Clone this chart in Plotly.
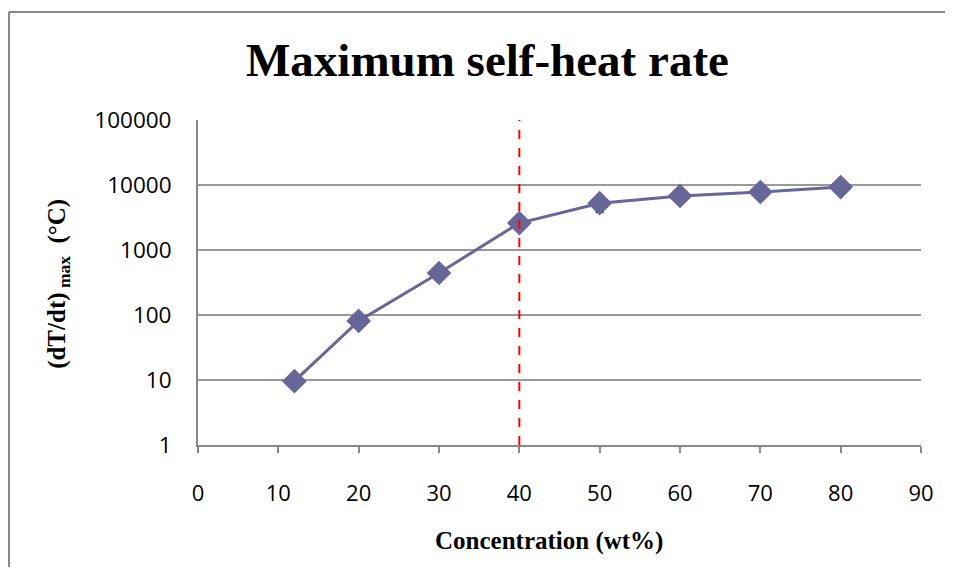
import plotly.graph_objects as go

concentration = [12, 20, 30, 40, 50, 60, 70, 80]
max_rate = [9.6, 81, 443, 2600, 5250, 6800, 7800, 9300]
err_minus = [0, 10, 45, 0, 1430, 1300, 1720, 1770]
x_ticks = [0, 10, 20, 30, 40, 50, 60, 70, 80, 90]
y_ticks = [1, 10, 100, 1000, 10000, 100000]
threshold_x = 40

fig = go.Figure()
fig.add_trace(go.Scatter(
    x=concentration, y=max_rate, mode="lines+markers",
    line=dict(color="#666699", width=3),
    marker=dict(symbol="diamond", size=19, color="#666699"),
    error_y=dict(type="data", symmetric=False, array=[0]*len(err_minus),
                 arrayminus=err_minus, color="black", thickness=1.5, width=4),
    showlegend=False,
))

fig.add_shape(type="line", xref="x", yref="paper", x0=threshold_x, x1=threshold_x,
              y0=0, y1=1, line=dict(color="red", width=2, dash="dash"))

# outer chart border (left and top)
fig.add_shape(type="line", xref="paper", yref="paper", x0=-0.2614, x1=-0.2614,
              y0=1.3323, y1=-0.42, line=dict(color="#888888", width=2))
fig.add_shape(type="line", xref="paper", yref="paper", x0=-0.2614, x1=1.06,
              y0=1.3323, y1=1.3323, line=dict(color="#888888", width=2))

fig.add_annotation(text="<b>Maximum self-heat rate</b>", xref="paper", yref="paper",
                   x=0.401, y=1.185, xanchor="center", yanchor="middle", showarrow=False,
                   font=dict(family="Liberation Serif", size=47, color="black"))
fig.add_annotation(text="<b>Concentration (wt%)</b>", xref="paper", yref="paper",
                   x=0.485, y=-0.295, xanchor="center", yanchor="middle", showarrow=False,
                   font=dict(family="Liberation Serif", size=25, color="black"))
fig.add_annotation(text="<b>(dT/dt)<sub> max</sub>  (°C)</b>", xref="paper", yref="paper",
                   x=-0.194, y=0.495, xanchor="center", yanchor="middle", showarrow=False,
                   textangle=-90,
                   font=dict(family="Liberation Serif", size=25, color="black"))

fig.update_xaxes(range=[0, 90], tickvals=x_ticks, showgrid=False,
                 showline=True, linecolor="#888888", linewidth=2,
                 ticks="outside", ticklen=6, tickcolor="#888888", tickwidth=1.5,
                 ticklabelstandoff=22,
                 tickfont=dict(family="Open Sans", size=22, color="black"), zeroline=False)
fig.update_yaxes(type="log", range=[0, 5], tickvals=y_ticks,
                 ticktext=[str(v) for v in y_ticks],
                 showgrid=True, gridcolor="#999999", gridwidth=2,
                 showline=True, linecolor="#888888", linewidth=2,
                 ticks="", ticklabelstandoff=20,
                 tickfont=dict(family="Open Sans", size=22.5, color="black"), zeroline=False)

fig.update_layout(width=937, height=559, plot_bgcolor="white", paper_bgcolor="white",
                  margin=dict(l=190, r=24, t=112, b=122))
fig.write_html("out.html")
